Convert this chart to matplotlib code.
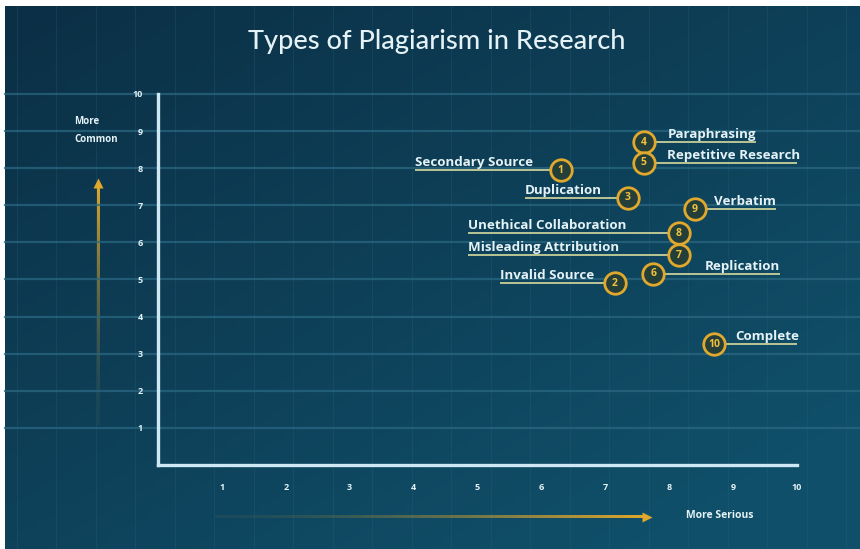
import numpy as np
import matplotlib
matplotlib.use("Agg")
import matplotlib.pyplot as plt
from matplotlib.colors import to_rgba
from matplotlib.transforms import offset_copy

plt.rcParams["font.family"] = ["Open Sans", "DejaVu Sans"]

# Plagiarism types: seriousness (x) vs. how common (y)
names = ["Secondary Source", "Invalid Source", "Duplication", "Paraphrasing",
         "Repetitive Research", "Replication", "Misleading Attribution",
         "Unethical Collaboration", "Verbatim", "Complete"]
seriousness = [6.3, 7.15, 7.35, 7.6, 7.6, 7.75, 8.15, 8.15, 8.4, 8.7]
commonness = [7.95, 4.9, 7.2, 8.7, 8.15, 5.15, 5.65, 6.25, 6.9, 3.25]
ticks = list(range(1, 11))

# where each label starts (left edge, data x)
label_x = [4.02, 5.35, 5.74, 7.98, 7.97, 8.56, 4.85, 4.85, 8.70, 9.03]

BG_DARK = np.array(to_rgba("#0b2f45"))
BG_LIGHT = np.array(to_rgba("#104f69"))
GRID = "#2a6781"
AXIS = "#cfe9f4"
TXT = "#e4f2f6"
GOLD = "#e0a82c"

fig = plt.figure(figsize=(8.6, 5.49), dpi=100, facecolor="white")

# background in pixel coords (y down)
bg = fig.add_axes([0, 0, 1, 1])
bg.set_xlim(0, 860)
bg.set_ylim(549, 0)
bg.axis("off")
gx, gy = np.meshgrid(np.linspace(0, 1, 200), np.linspace(0, 1, 130))
t = np.clip(0.55 * gx + 0.6 * gy, 0, 1)[..., None]
grad = BG_DARK * (1 - t) + BG_LIGHT * t
bg.imshow(grad, extent=[5, 860, 549, 6], aspect="auto", zorder=0)
for vx in np.arange(16.5, 860, 39.5):
    bg.plot([vx, vx], [6, 549], color=GRID, lw=0.8, alpha=0.25, zorder=1)

# title
bg.text(437, 42, "Types of Plagiarism in Research", ha="center", va="center",
        fontsize=19.5, color=TXT, family=["Lato", "DejaVu Sans"],
        fontweight="medium")


def fade_bar(extent, vertical):
    n = 200
    a = np.linspace(0, 1, n) ** 1.6 * 0.94 + 0.06
    rgba = np.tile(np.array(to_rgba(GOLD)), (n, 1))
    rgba[:, 3] = a
    if vertical:
        img = rgba[:, None, :]          # rows top->bottom after flip below
        img = img[::-1]
    else:
        img = rgba[None, :, :]
    bg.imshow(img, extent=extent, aspect="auto", zorder=2,
              interpolation="bilinear")


# vertical arrow: faded at bottom, gold at top
fade_bar([97, 99.2, 425, 186], vertical=True)
bg.plot(98, 183, marker="^", ms=7, color=GOLD, mec="none", zorder=3)
# horizontal arrow: faded at left, gold at right
fade_bar([215, 644, 518.1, 515.9], vertical=False)
bg.plot(647, 517, marker=">", ms=7, color=GOLD, mec="none", zorder=3)
bg.set_xlim(0, 860)
bg.set_ylim(549, 0)

bg.text(74, 122, "More", fontsize=7, color=TXT, fontweight="bold",
        va="center", ha="left")
bg.text(74, 139, "Common", fontsize=7, color=TXT, fontweight="bold",
        va="center", ha="left")
bg.text(686, 516, "More Serious", fontsize=7.5, color=TXT, fontweight="bold",
        va="center", ha="left")

# main axes
ax = fig.add_axes([158 / 860, 84 / 549, 639 / 860, 371 / 549])
ax.set_facecolor("none")
ax.set_xlim(0, 10)
ax.set_ylim(0, 10)
for side in ["top", "right"]:
    ax.spines[side].set_visible(False)
for side in ["left", "bottom"]:
    ax.spines[side].set_color(AXIS)
    ax.spines[side].set_linewidth(2.4)
    ax.spines[side].set_zorder(4)
ax.set_xticks(ticks)
ax.set_yticks(ticks)
ax.tick_params(length=0, labelsize=6.5, labelcolor=TXT)
ax.tick_params(axis="y", pad=11)
ax.tick_params(axis="x", pad=13)
for lab in ax.get_xticklabels() + ax.get_yticklabels():
    lab.set_fontweight("bold")

for yv in ticks:
    ax.axhline(yv, xmin=-0.24, xmax=1.1, color=GRID, lw=1.6, alpha=0.75,
               clip_on=False, zorder=1)

# labels with underline
fig.canvas.draw()
rend = fig.canvas.get_renderer()
inv = ax.transData.inverted()
text_tr = offset_copy(ax.transData, fig=fig, x=0, y=1, units="dots")
for i, name in enumerate(names):
    x, y = seriousness[i], commonness[i]
    txt = ax.text(label_x[i], y, name, ha="left", va="bottom",
                  fontsize=9.6, fontweight="bold", color=TXT,
                  transform=text_tr, zorder=5)
    bb = txt.get_window_extent(rend)
    x_end = inv.transform((bb.x1, 0))[0]
    lo = min(label_x[i], x)
    hi = max(x_end, x)
    ax.plot([lo, hi], [y, y], color="#c9cf9a", lw=1.3, zorder=3,
            solid_capstyle="butt")

ax.scatter(seriousness, commonness, s=240, facecolor="#243f3a",
           edgecolor=GOLD, linewidth=2, zorder=6)
for i in range(len(names)):
    ax.text(seriousness[i], commonness[i], str(i + 1), ha="center",
            va="center", fontsize=7.5, fontweight="bold", color="#f2c23c",
            zorder=7)

fig.savefig("out.png", dpi=100, facecolor=fig.get_facecolor())
